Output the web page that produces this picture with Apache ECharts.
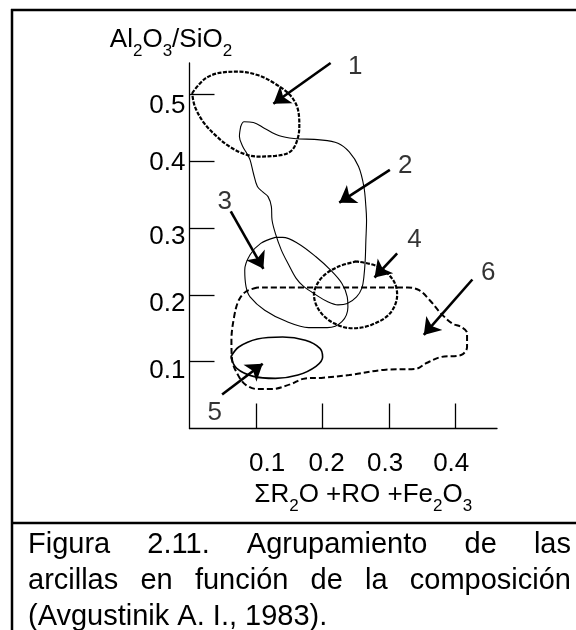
<!DOCTYPE html>
<html>
<head>
<meta charset="utf-8">
<script src="https://cdn.jsdelivr.net/npm/echarts@6/dist/echarts.min.js"></script>
<style>
  html, body { margin: 0; padding: 0; background: #fff; }
  #chart { width: 576px; height: 630px; }
</style>
</head>
<body>
<div id="chart"></div>
<script>
// outlines of the clay groups, points are [ΣR2O+RO+Fe2O3, Al2O3/SiO2]
const zone1 = [
  [0.004, 0.502], [0.024, 0.524], [0.050, 0.533], [0.074, 0.534], [0.102, 0.529],
  [0.127, 0.517], [0.151, 0.499], [0.163, 0.477], [0.165, 0.452], [0.161, 0.429],
  [0.151, 0.414], [0.129, 0.408], [0.102, 0.407], [0.082, 0.411], [0.060, 0.422],
  [0.041, 0.437], [0.022, 0.457], [0.008, 0.482]
]
const zone2 = [
  [0.077, 0.452], [0.082, 0.459], [0.096, 0.458], [0.113, 0.449], [0.135, 0.438],
  [0.157, 0.434], [0.196, 0.432], [0.223, 0.427], [0.240, 0.414], [0.254, 0.392],
  [0.262, 0.362], [0.265, 0.332], [0.266, 0.312], [0.265, 0.282], [0.264, 0.252],
  [0.262, 0.227], [0.259, 0.210], [0.251, 0.197], [0.237, 0.187], [0.223, 0.185],
  [0.207, 0.190], [0.190, 0.200], [0.171, 0.213], [0.160, 0.225], [0.149, 0.245],
  [0.138, 0.267], [0.129, 0.292], [0.124, 0.312], [0.123, 0.332], [0.118, 0.347],
  [0.110, 0.354], [0.102, 0.362], [0.096, 0.382], [0.091, 0.402], [0.086, 0.412],
  [0.080, 0.422], [0.075, 0.437]
]
const zone3 = [
  [0.129, 0.286], [0.107, 0.277], [0.091, 0.260], [0.083, 0.237], [0.085, 0.212],
  [0.091, 0.197], [0.113, 0.177], [0.146, 0.160], [0.179, 0.151], [0.207, 0.151],
  [0.229, 0.160], [0.238, 0.182], [0.237, 0.197], [0.229, 0.217], [0.212, 0.237],
  [0.190, 0.257], [0.163, 0.277], [0.140, 0.286]
]
const zone4 = [
  [0.251, 0.250], [0.223, 0.242], [0.198, 0.225], [0.187, 0.200], [0.196, 0.175],
  [0.218, 0.157], [0.245, 0.150], [0.273, 0.155], [0.301, 0.172], [0.312, 0.200],
  [0.306, 0.222], [0.284, 0.242]
]
const zone5 = [
  [0.062, 0.107], [0.074, 0.122], [0.102, 0.134], [0.140, 0.137], [0.174, 0.132],
  [0.196, 0.120], [0.200, 0.107], [0.190, 0.093], [0.163, 0.080], [0.129, 0.075],
  [0.096, 0.078], [0.071, 0.090]
]
const zone6 = [
  [0.102, 0.211], [0.085, 0.205], [0.074, 0.192], [0.067, 0.167], [0.063, 0.132],
  [0.064, 0.103], [0.074, 0.078], [0.085, 0.065], [0.102, 0.059], [0.124, 0.059],
  [0.151, 0.066], [0.174, 0.075], [0.201, 0.076], [0.240, 0.080], [0.295, 0.088],
  [0.339, 0.089], [0.356, 0.098], [0.378, 0.107], [0.408, 0.110], [0.417, 0.122],
  [0.417, 0.143], [0.408, 0.152], [0.395, 0.157], [0.378, 0.172], [0.361, 0.192],
  [0.345, 0.207], [0.328, 0.211], [0.215, 0.211]
]

const groupNames = ['1', '2', '3', '4', '5', '6']
const groupLabelAt = [
  [0.249, 0.541], [0.324, 0.393], [0.053, 0.339], [0.338, 0.282], [0.038, 0.024], [0.449, 0.233]
]
const arrowTails = [
  [0.212, 0.547], [0.301, 0.387], [0.062, 0.325], [0.312, 0.262], [0.049, 0.051], [0.425, 0.223]
]
const arrowHeads = [
  [0.126, 0.486], [0.225, 0.338], [0.111, 0.239], [0.278, 0.226], [0.110, 0.097], [0.352, 0.140]
]

const xTicks = [0.1, 0.2, 0.3, 0.4]
const yTicks = [0.1, 0.2, 0.3, 0.4, 0.5]

const captionLines = [
  'Figura 2.11. Agrupamiento de las',
  'arcillas en función de la composición',
  '(Avgustinik A. I., 1983).'
]

const FONT = "'Liberation Sans', Arial, sans-serif"

function zoneSeries(pts, width, dash) {
  return {
    type: 'line',
    data: pts.concat([pts[0]]),
    smooth: 0.35,
    symbol: 'none',
    silent: true,
    clip: false,
    lineStyle: { color: '#000', width: width, type: dash },
    z: 3,
  }
}

// caption words spread over the full line (justified like the source)
function captionGraphic() {
  const ctx = document.createElement('canvas').getContext('2d')
  const size = 29
  ctx.font = size + 'px ' + FONT
  const left = 28
  const right = 571
  const baselines = [555, 591, 627]
  const out = []
  captionLines.forEach(function (line, li) {
    const words = line.split(' ')
    const widths = words.map(function (w) { return ctx.measureText(w).width })
    let gap = ctx.measureText(' ').width
    if (li < 2) {
      const sum = widths.reduce(function (a, b) { return a + b }, 0)
      gap = (right - left - sum) / (words.length - 1)
    }
    let x = left
    words.forEach(function (w, wi) {
      out.push({
        type: 'text',
        x: x,
        y: baselines[li] - 10,
        silent: true,
        style: {
          text: w,
          font: size + 'px ' + FONT,
          fill: '#000',
          textAlign: 'left',
          textVerticalAlign: 'middle',
        },
      })
      x += widths[wi] + gap
    })
  })
  return out
}

const xShift = { 0: [0, 0, 0, 22], 1: [0, 0, 0, 8], 2: [0, 8, 0, 0], 3: [0, 9, 0, 0] }
const yShift = { 0: 18, 1: 18, 2: 18, 3: 4, 4: 22 }

const xRich = {}
xTicks.forEach(function (v, i) { xRich['x' + i] = { padding: xShift[i] } })
const yRich = {}
yTicks.forEach(function (v, i) { yRich['y' + i] = { padding: [yShift[i], 0, 0, 0] } })

const subRich = {
  n: { fontSize: 26, fontFamily: FONT, color: '#000', padding: [0, 0, 7, 0], verticalAlign: 'top' },
  s: { fontSize: 17, fontFamily: FONT, color: '#000', verticalAlign: 'bottom' },
}

const option = {
  backgroundColor: '#fff',
  animation: false,
  grid: { left: 189.5, top: 63, width: 307.5, height: 365.5 },
  xAxis: {
    type: 'value',
    min: 0,
    max: 0.462,
    axisLine: { show: true, onZero: false, lineStyle: { color: '#000', width: 1.3 } },
    axisTick: { show: true, inside: true, length: 25, customValues: xTicks, lineStyle: { color: '#000', width: 1.3 } },
    axisLabel: {
      customValues: xTicks,
      margin: 22,
      color: '#000',
      fontSize: 26,
      fontFamily: FONT,
      formatter: function (v) {
        const i = xTicks.indexOf(v)
        return '{x' + i + '|' + v.toFixed(1) + '}'
      },
      rich: xRich,
    },
    splitLine: { show: false },
    name: '{n|ΣR}{s|2}{n|O +RO +Fe}{s|2}{n|O}{s|3}',
    nameLocation: 'middle',
    nameGap: 51,
    nameTextStyle: { rich: subRich, padding: [0, 0, 0, 40] },
  },
  yAxis: {
    type: 'value',
    min: 0,
    max: 0.547,
    axisLine: { show: true, onZero: false, lineStyle: { color: '#000', width: 1.3 } },
    axisTick: { show: true, inside: true, length: 25, customValues: yTicks, lineStyle: { color: '#000', width: 1.3 } },
    axisLabel: {
      customValues: yTicks,
      margin: 4,
      color: '#000',
      fontSize: 26,
      fontFamily: FONT,
      formatter: function (v) {
        const i = yTicks.indexOf(v)
        return '{y' + i + '|' + v.toFixed(1) + '}'
      },
      rich: yRich,
    },
    splitLine: { show: false },
    name: '{n|Al}{s|2}{n|O}{s|3}{n|/SiO}{s|2}',
    nameLocation: 'end',
    nameGap: 3,
    nameTextStyle: { rich: subRich, padding: [0, 37, 0, 0] },
  },
  graphic: [
    { type: 'line', silent: true, shape: { x1: 12, y1: 9, x2: 12, y2: 630 }, style: { stroke: '#000', lineWidth: 2.5 } },
    { type: 'line', silent: true, shape: { x1: 11, y1: 10, x2: 576, y2: 10 }, style: { stroke: '#000', lineWidth: 2.5 } },
    { type: 'line', silent: true, shape: { x1: 11, y1: 523, x2: 576, y2: 523 }, style: { stroke: '#000', lineWidth: 2.5 } },
  ].concat(captionGraphic()),
  series: [
    zoneSeries(zone1, 2.2, [4, 1.5]),
    zoneSeries(zone2, 1.1, 'solid'),
    zoneSeries(zone3, 1.1, 'solid'),
    zoneSeries(zone4, 2.2, [4, 1.5]),
    zoneSeries(zone5, 1.6, 'solid'),
    zoneSeries(zone6, 2, [6, 3]),
    {
      type: 'lines',
      coordinateSystem: 'cartesian2d',
      silent: true,
      symbol: ['none', 'arrow'],
      symbolSize: 16,
      lineStyle: { color: '#000', width: 2.6, opacity: 1, curveness: 0 },
      data: arrowTails.map(function (t, i) { return { coords: [t, arrowHeads[i]] } }),
      z: 4,
    },
    {
      type: 'scatter',
      silent: true,
      clip: false,
      symbolSize: 1,
      itemStyle: { color: 'rgba(0,0,0,0)' },
      label: { show: true, position: 'inside', formatter: '{b}', color: '#000', fontSize: 26, fontFamily: FONT },
      data: groupLabelAt.map(function (p, i) { return { name: groupNames[i], value: p } }),
      z: 5,
    },
  ],
}

const chart = echarts.init(document.getElementById('chart'), null, { renderer: 'canvas' })
chart.setOption(option)
</script>
</body>
</html>
